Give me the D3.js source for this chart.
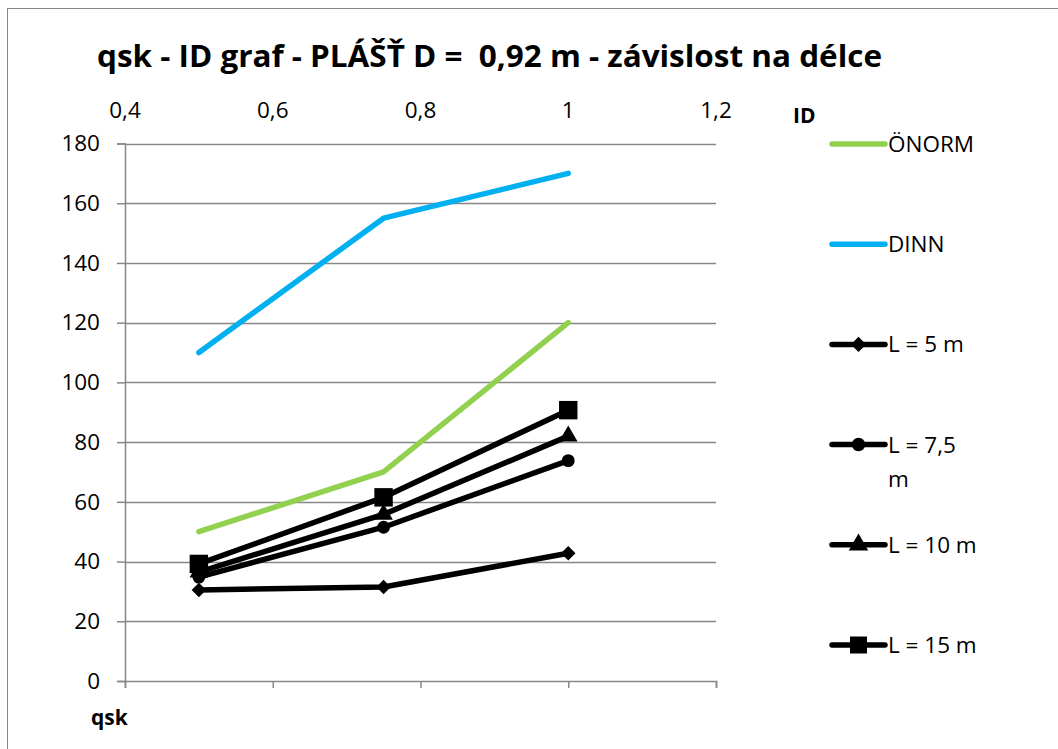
<!DOCTYPE html>
<html>
<head>
<meta charset="utf-8">
<script src="https://cdn.jsdelivr.net/npm/d3@7"></script>
<style>
  html, body { margin: 0; padding: 0; background: #fff; }
  svg { display: block; font-family: "Open Sans", sans-serif; }
</style>
</head>
<body>
<svg id="chart" width="1058" height="749"></svg>
<script>
const title = "qsk - ID graf - PLÁŠŤ D =  0,92 m - závislost na délce";
const xTicks = [0.4, 0.6, 0.8, 1, 1.2];
const yTicks = [0, 20, 40, 60, 80, 100, 120, 140, 160, 180];
const qsk = [0.5, 0.75, 1];
const onorm = [50, 70, 120];
const dinn = [110, 155, 170];
const l5 = [30.5, 31.5, 42.8];
const l75 = [34.8, 51.5, 73.8];
const l10 = [36.5, 55.8, 82];
const l15 = [39.2, 61.5, 90.7];

const seriesNames = ["ÖNORM", "DINN", "L = 5 m", "L = 7,5 m", "L = 10 m", "L = 15 m"];
const series = [
  { name: seriesNames[0], values: onorm, color: "#92D050", marker: null },
  { name: seriesNames[1], values: dinn, color: "#00B0F0", marker: null },
  { name: seriesNames[2], values: l5, color: "#000", marker: "diamond" },
  { name: seriesNames[3], values: l75, color: "#000", marker: "circle" },
  { name: seriesNames[4], values: l10, color: "#000", marker: "triangle" },
  { name: seriesNames[5], values: l15, color: "#000", marker: "square" }
];

const svg = d3.select("#chart");
const fmt = v => String(v).replace(".", ",");
const gridColor = "#878787";

// outer frame
svg.append("rect").attr("x", 7.5).attr("y", 8.5).attr("width", 1060).attr("height", 760)
  .attr("fill", "none").attr("stroke", gridColor).attr("stroke-width", 1);

const x = d3.scaleLinear().domain([0.4, 1.2]).range([125, 716]);
const y = d3.scaleLinear().domain([0, 180]).range([681, 143.5]);

// gridlines
svg.append("g").selectAll("line").data(yTicks.filter(d => d > 0)).join("line")
  .attr("x1", x(0.4)).attr("x2", x(1.2))
  .attr("y1", d => Math.round(y(d)) + 0.5).attr("y2", d => Math.round(y(d)) + 0.5)
  .attr("stroke", gridColor).attr("stroke-width", 1.5);

// y axis
const yAxis = svg.append("g").attr("transform", `translate(${x(0.4)},0)`)
  .call(d3.axisLeft(y).tickValues(yTicks).tickSize(8).tickPadding(17).tickFormat(fmt));
yAxis.select(".domain").attr("stroke", gridColor).attr("stroke-width", 1.5);
yAxis.selectAll(".tick line").attr("stroke", gridColor).attr("stroke-width", 1.5);
yAxis.selectAll(".tick text").attr("font-family", "Open Sans").attr("font-size", 22.5).attr("fill", "#000");

// x axis at bottom (ticks), labels at top
const xAxis = svg.append("g").attr("transform", `translate(0,${y(0)})`)
  .call(d3.axisBottom(x).tickValues(xTicks).tickSize(7).tickFormat(""));
xAxis.select(".domain").attr("stroke", gridColor).attr("stroke-width", 1.5);
xAxis.selectAll(".tick line").attr("stroke", gridColor).attr("stroke-width", 1.5);

svg.append("g").selectAll("text").data(xTicks).join("text")
  .attr("x", d => x(d)).attr("y", 118)
  .attr("text-anchor", "middle").attr("font-size", 22.5).attr("fill", "#000")
  .text(fmt);

// lines
const line = d3.line().x((d, i) => x(qsk[i])).y(d => y(d));
svg.append("g").selectAll("path").data(series).join("path")
  .attr("d", s => line(s.values))
  .attr("fill", "none").attr("stroke", s => s.color).attr("stroke-width", 5.5)
  .attr("stroke-linecap", "round").attr("stroke-linejoin", "round");

const symbolType = { diamond: d3.symbolDiamond2, circle: d3.symbolCircle, triangle: d3.symbolTriangle, square: d3.symbolSquare };
const symbolSize = { diamond: 135, circle: 130, triangle: 150, square: 340 };

function drawMarker(g, m, cx, cy, scale) {
  if (!m) return;
  g.append("path")
    .attr("d", d3.symbol().type(symbolType[m]).size(symbolSize[m] * (scale || 1))())
    .attr("transform", `translate(${cx},${cy})`)
    .attr("fill", "#000");
}

const mg = svg.append("g");
series.forEach(s => {
  s.values.forEach((v, i) => drawMarker(mg, s.marker, x(qsk[i]), y(v), 1));
});

// title
svg.append("text").attr("x", 97).attr("y", 67)
  .attr("font-weight", "bold").attr("font-size", 30).attr("fill", "#000")
  .attr("textLength", 785).attr("lengthAdjust", "spacingAndGlyphs")
  .style("white-space", "pre")
  .text(title);

// axis titles
svg.append("text").attr("x", 793).attr("y", 123)
  .attr("font-weight", "bold").attr("font-size", 21).attr("fill", "#000").text("ID");
svg.append("text").attr("x", 91).attr("y", 725)
  .attr("font-weight", "bold").attr("font-size", 21).attr("fill", "#000").text("qsk");

// legend
const lg = svg.append("g");
series.forEach((s, i) => {
  const ly = 144 + i * 100.2;
  lg.append("line").attr("x1", 832).attr("x2", 885).attr("y1", ly).attr("y2", ly)
    .attr("stroke", s.color).attr("stroke-width", 5.5).attr("stroke-linecap", "round");
  drawMarker(lg, s.marker, 858.5, ly, s.marker === "square" ? 0.85 : 1.1);
  const t = lg.append("text").attr("x", 888).attr("y", ly + 8)
    .attr("font-size", 22.5).attr("fill", "#000");
  if (s.name === "L = 7,5 m") {
    t.append("tspan").attr("x", 888).text("L = 7,5");
    t.append("tspan").attr("x", 888).attr("dy", 34).text("m");
  } else {
    t.text(s.name);
  }
});
</script>
</body>
</html>
